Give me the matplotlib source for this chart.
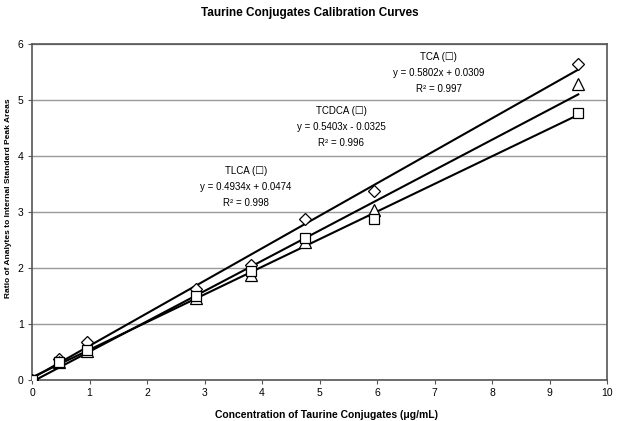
import matplotlib
matplotlib.use("Agg")
import matplotlib.pyplot as plt
import numpy as np

plt.rcParams['font.family'] = ['Liberation Sans', 'DejaVu Sans']

conc = [0, 0.475, 0.95, 2.85, 3.8, 4.75, 5.94, 9.5]
tca = [0, 0.38, 0.68, 1.62, 2.05, 2.87, 3.38, 5.65]
tcdca = [0, 0.33, 0.52, 1.47, 1.88, 2.47, 3.03, 5.28]
tlca = [0, 0.32, 0.53, 1.50, 1.95, 2.53, 2.87, 4.77]

fits = {
    'TCA': (0.5802, 0.0309, 0.997),
    'TCDCA': (0.5403, -0.0325, 0.996),
    'TLCA': (0.4934, 0.0474, 0.998),
}
label_pos = {'TCA': (7.07, 5.86), 'TCDCA': (5.38, 4.90), 'TLCA': (3.72, 3.83)}

fig = plt.figure(figsize=(6.19, 4.21), dpi=100)
ax = fig.add_axes([32/619, 41/421, 575/619, 336/421])

xx = np.array([min(conc), max(conc)])
for name in ['TCA', 'TCDCA', 'TLCA']:
    m, b, r2 = fits[name]
    ax.plot(xx, m*xx + b, color='black', lw=1.5, zorder=3)

ax.plot(conc, tca, linestyle='none', marker='D', ms=6.5, mfc='white', mec='black', mew=0.9, zorder=4)
ax.plot(conc, tcdca, linestyle='none', marker='^', ms=8, mfc='white', mec='black', mew=0.9, zorder=4)
ax.plot(conc, tlca, linestyle='none', marker='s', ms=6.5, mfc='white', mec='black', mew=0.9, zorder=4)

for name in ['TCA', 'TCDCA', 'TLCA']:
    m, b, r2 = fits[name]
    sign = '+' if b >= 0 else '-'
    x0, y0 = label_pos[name]
    txt = f"{name} (\u2610)\ny = {m:.4f}x {sign} {abs(b):.4f}\nR\u00b2 = {r2:.3f}"
    ax.text(x0, y0, txt, ha='center', va='top', fontsize=7, linespacing=1.75, zorder=5)

ax.set_xlim(0, 10)
ax.set_ylim(0, 6)
ax.set_xticks(range(0, 11))
ax.set_yticks(range(0, 7))
ax.yaxis.grid(True, color='#999999', lw=1)
ax.set_axisbelow(True)
for s in ax.spines.values():
    s.set_color('#555555')
    s.set_linewidth(1.2)
ax.tick_params(labelsize=7.5, length=3, color='#555555', pad=3)

ax.set_xlabel('Concentration of Taurine Conjugates (\u03bcg/mL)', fontsize=7.5, fontweight='bold')
ax.xaxis.set_label_coords(0.513, -30/336)
ax.set_ylabel('Ratio of Analytes to Internal Standard Peak Areas', fontsize=6.0, fontweight='bold', va='center')
ax.yaxis.set_label_coords(-23/575, 0.54)
fig.text(0.5, 1 - 13/421, 'Taurine Conjugates Calibration Curves', ha='center', va='center', fontsize=8.5, fontweight='bold')

fig.savefig('out.png', dpi=100)
